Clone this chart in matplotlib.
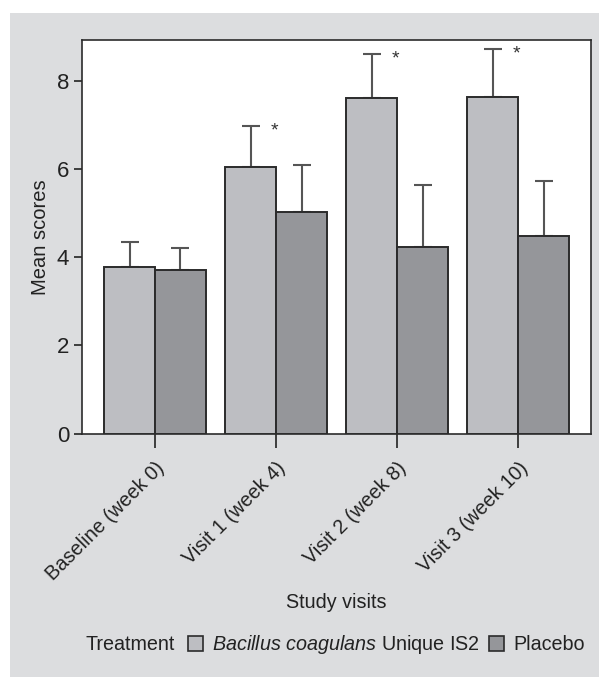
import matplotlib
matplotlib.use("Agg")
import matplotlib.pyplot as plt
import matplotlib.patches as mpatches
import numpy as np

plt.rcParams['font.family'] = ['Liberation Sans', 'DejaVu Sans']
plt.rcParams['mathtext.fontset'] = 'custom'
plt.rcParams['mathtext.rm'] = 'Liberation Sans'
plt.rcParams['mathtext.it'] = 'Liberation Sans:italic'

# data
visits = ["Baseline (week 0)", "Visit 1 (week 4)", "Visit 2 (week 8)", "Visit 3 (week 10)"]
probiotic_mean = [3.78, 6.05, 7.62, 7.64]
probiotic_err = [0.56, 0.93, 0.99, 1.09]
placebo_mean = [3.71, 5.02, 4.24, 4.49]
placebo_err = [0.49, 1.08, 1.40, 1.25]
significant = [False, True, True, True]

LIGHT = "#bdbec2"
DARK = "#95969a"
PANEL = "#dcdddf"
EDGE = "#2b2b2b"
ERRC = "#555555"
TXT = "#222222"

fig = plt.figure(figsize=(5.99, 6.77), dpi=100)
fig.patches.append(mpatches.Rectangle((10/599, 0), 1, 1 - 13/677, transform=fig.transFigure,
                                      facecolor=PANEL, edgecolor='none', zorder=-10))
ax = fig.add_axes([82.3/599, 1 - 433.5/677, (591 - 82.3)/599, (433.5 - 40)/677])
ax.set_facecolor("white")

x = np.arange(len(visits))
w = 0.42
kw = dict(width=w, edgecolor=EDGE, linewidth=1.4, zorder=3)
ax.bar(x - w/2, probiotic_mean, color=LIGHT, **kw)
ax.bar(x + w/2, placebo_mean, color=DARK, **kw)

ekw = dict(fmt='none', ecolor=ERRC, elinewidth=1.5, capsize=6.2, capthick=1.5, zorder=2)
ax.errorbar(x - w/2, probiotic_mean, yerr=[np.zeros(4), probiotic_err], **ekw)
ax.errorbar(x + w/2, placebo_mean, yerr=[np.zeros(4), placebo_err], **ekw)

# significance markers
for i, sig in enumerate(significant):
    if sig:
        ax.text(x[i] - 0.015, probiotic_mean[i] + probiotic_err[i] - 0.12, "*", ha='center', va='center',
                fontsize=14, color="#333333")

ax.set_xlim(-0.6, 3.6)
ax.set_ylim(0, 8.93)
ax.set_yticks([0, 2, 4, 6, 8])
ax.set_xticks(x)
ax.set_xticklabels(visits, rotation=45, ha='right', va='top', rotation_mode='anchor',
                   fontsize=14.3, color=TXT)
ax.tick_params(axis='y', labelsize=16, length=6, width=1.2, colors=TXT)
ax.tick_params(axis='x', length=10, width=1.2, colors=TXT, pad=8)
for s in ax.spines.values():
    s.set_linewidth(1.2)
    s.set_color(EDGE)

fig.text(40/599, 1 - (433.5 + 40) / 2 / 677, "Mean scores", rotation=90, ha='center', va='center',
         fontsize=14.5, color=TXT)
fig.text(336/599, 1 - 603/677, "Study visits", ha='center', va='center', fontsize=14.2, color=TXT)

fig.text(86/599, 1 - 645/677, "Treatment", ha='left', va='center', fontsize=14.2, color=TXT)
handles = [mpatches.Rectangle((0, 0), 1, 1, facecolor=LIGHT, edgecolor=EDGE, linewidth=1.2),
           mpatches.Rectangle((0, 0), 1, 1, facecolor=DARK, edgecolor=EDGE, linewidth=1.2)]
fig.legend(handles, [r"$\mathit{Bacillus\ coagulans}$ Unique IS2", "Placebo"], ncol=2,
           loc='center left', bbox_to_anchor=(188/599, 1 - 645/677), frameon=False,
           fontsize=14.2, handlelength=0.75, handleheight=0.75, handletextpad=0.45,
           columnspacing=0.5, borderpad=0, borderaxespad=0, labelcolor=TXT)

fig.savefig("out.png", dpi=100, facecolor="white")
